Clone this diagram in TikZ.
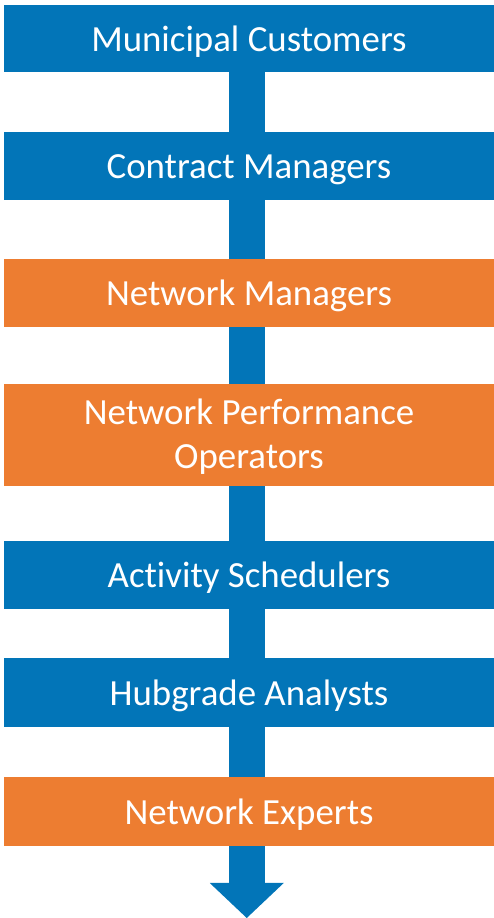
\documentclass[tikz,border=0pt]{standalone}
\usepackage{fontspec}
\setmainfont[Ligatures=NoCommon]{Carlito}
\usetikzlibrary{backgrounds}
\definecolor{boxblue}{RGB}{2,117,184}
\definecolor{boxorange}{RGB}{237,125,49}
\begin{document}
\begin{tikzpicture}[x=1bp,y=1bp,
  stage/.style={rectangle, inner sep=0pt, outer sep=0pt, minimum width=490bp,
    text=white, align=center, font=\fontsize{37}{45}\selectfont,
    text height=26bp, text depth=0bp},
  bluestage/.style={stage, fill=boxblue},
  orangestage/.style={stage, fill=boxorange},
  flow/.style={fill=boxblue}]
\useasboundingbox (0,0) rectangle (494,918);
\node[bluestage, minimum height=67bp] (b1) at (249,879.5) {Municipal Customers};
\node[bluestage, minimum height=68bp] (b2) at (249,752) {Contract Managers};
\node[orangestage, minimum height=68bp] (b3) at (249,625) {Network Managers};
\node[orangestage, minimum height=102bp, text height=68bp, text depth=0bp] (b4) at (249,483) {Network Performance\\Operators};
\node[bluestage, minimum height=68bp] (b5) at (249,343) {Activity Schedulers};
\node[bluestage, minimum height=69bp] (b6) at (249,225.5) {Hubgrade Analysts};
\node[orangestage, minimum height=69bp] (b7) at (249,106.5) {Network Experts};
\coordinate (tip) at (246.75,0);
\coordinate (head) at (246.75,35);
\begin{scope}[on background layer]
  \fill[flow] ([xshift=-18.25bp]head |- b1.south) rectangle ([xshift=18.25bp]head);
  \fill[flow] ([xshift=-37bp]head) -- ([xshift=37bp]head) -- (tip) -- cycle;
\end{scope}
\end{tikzpicture}
\end{document}
